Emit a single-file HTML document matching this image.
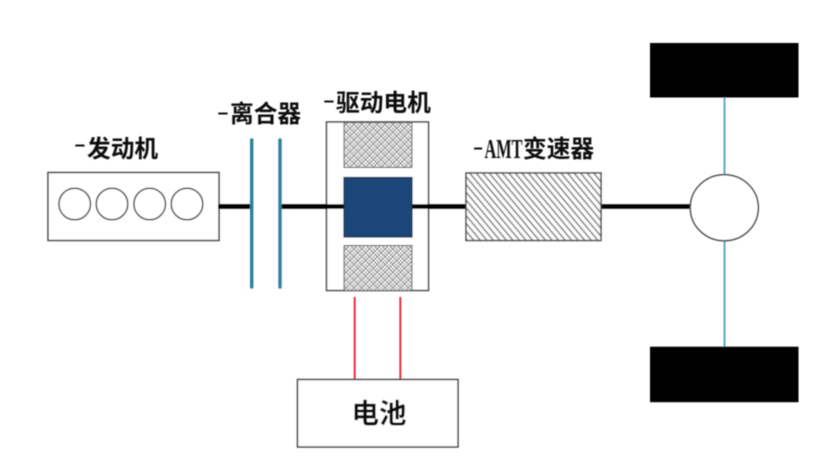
<!DOCTYPE html>
<html><head><meta charset="utf-8"><style>
html,body{margin:0;padding:0;background:#fff;width:818px;height:456px;overflow:hidden}
svg{display:block}
text{font-family:"Liberation Serif","Noto Sans CJK SC",sans-serif;fill:#111;font-weight:700;font-size:23.7px}
</style></head><body>
<svg width="818" height="456" viewBox="0 0 818 456" xmlns="http://www.w3.org/2000/svg">
<defs>
<pattern id="cross" width="5.5" height="5.5" patternUnits="userSpaceOnUse" patternTransform="rotate(45)">
<rect width="5.5" height="5.5" fill="#fff"/><path d="M0 0H5.5M0 2.75H5.5M0 0V5.5M2.75 0V5.5" stroke="#8a8a8a" stroke-width="1.1"/>
</pattern>
<pattern id="diag" width="5" height="5" patternUnits="userSpaceOnUse" patternTransform="rotate(50)">
<rect width="5" height="5" fill="#fff"/><path d="M0 1.5H5" stroke="#777" stroke-width="1.4"/>
</pattern>
<filter id="b" x="-2%" y="-2%" width="104%" height="104%"><feGaussianBlur stdDeviation="0.45"/></filter>
</defs>
<g filter="url(#b)">
<rect x="48" y="172.5" width="171" height="68" fill="#fff" stroke="#444" stroke-width="1.5"/>
<g fill="#fff" stroke="#444" stroke-width="1.5">
<circle cx="74.7" cy="204" r="15.8"/><circle cx="112" cy="204" r="15.8"/><circle cx="149.7" cy="204" r="15.8"/><circle cx="187" cy="204" r="15.8"/>
</g>
<rect x="326.5" y="122" width="102" height="168.5" fill="#fff" stroke="#444" stroke-width="1.5"/>
<path d="M218 206.5H251M280 206.5H344M412 206.5H466M601 206.5H691" stroke="#000" stroke-width="4.6"/>
<path d="M251.7 140V287M280 140V287" stroke="#2f8199" stroke-width="3.4" stroke-linecap="round"/>
<rect x="344" y="122.5" width="68" height="45" fill="url(#cross)" stroke="#555" stroke-width="1"/>
<rect x="344" y="245.5" width="68" height="45" fill="url(#cross)" stroke="#555" stroke-width="1"/>
<rect x="344" y="177.5" width="68" height="59.5" fill="#1f4579" stroke="#14294a" stroke-width="1.2"/>
<rect x="466" y="173" width="135" height="67.5" fill="url(#diag)" stroke="#444" stroke-width="1.4"/>
<path d="M724.5 97V175M724.5 241V347" stroke="#4fa3b8" stroke-width="1.8"/>
<ellipse cx="724.3" cy="207.7" rx="34" ry="33" fill="#fff" stroke="#444" stroke-width="1.5"/>
<rect x="650" y="43" width="148.5" height="54.5" fill="#000"/>
<rect x="650" y="346.7" width="148.5" height="55.5" fill="#000"/>
<path d="M354.7 297V379M400.3 297V379" stroke="#f01f26" stroke-width="1.8"/>
<rect x="297.5" y="379.5" width="160.5" height="67.5" fill="#fff" stroke="#444" stroke-width="1.5"/>
<text transform="translate(74,151) scale(1.5,1)">-</text><text x="87" y="157">发动机</text>
<text transform="translate(217,119) scale(1.5,1)">-</text><text x="230" y="122">离合器</text>
<text transform="translate(323,107) scale(1.5,1)">-</text><text x="336" y="111">驱动电机</text>
<text transform="translate(473,154) scale(1.3,1)">-</text>
<text x="484.5" y="158" textLength="38" lengthAdjust="spacingAndGlyphs" style="font-size:27px">AMT</text>
<text x="523" y="157">变速器</text>
<text x="351.5" y="423" style="font-size:27.5px">电池</text>
</g>
</svg>
</body></html>
